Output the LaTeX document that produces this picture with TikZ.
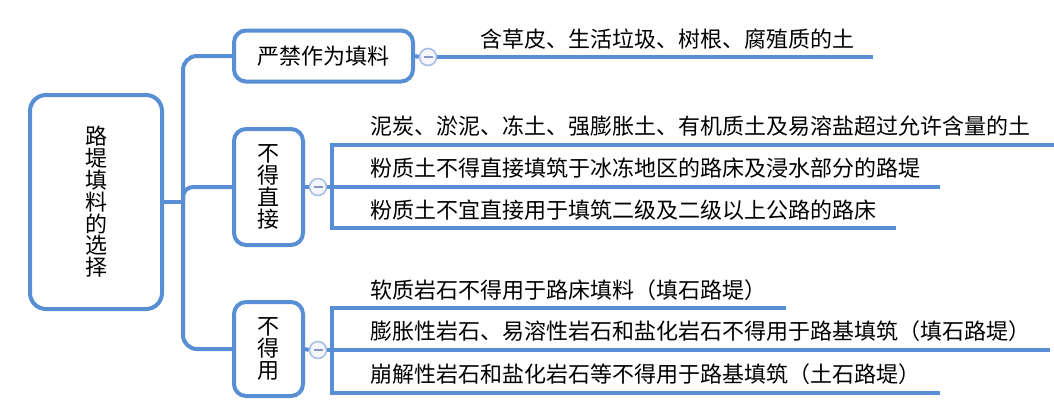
\documentclass[tikz,border=0pt]{standalone}
\usepackage{fontspec}
\setmainfont{Noto Sans CJK SC}
\usetikzlibrary{calc}
\definecolor{mblue}{RGB}{88,142,212}
\definecolor{cborder}{RGB}{168,192,232}
\definecolor{cfill}{RGB}{244,246,252}
\definecolor{cminus}{RGB}{136,150,196}
\begin{document}
\begin{tikzpicture}[x=1pt,y=-1pt,
  box/.style={draw=mblue,line width=4pt,rounded corners=12pt,inner sep=0pt,align=center,
    font=\fontsize{22}{21.8}\selectfont},
  conn/.style={draw=mblue,line width=4pt},
  fold/.style={circle,draw=cborder,fill=cfill,line width=1.6pt,minimum size=17pt,inner sep=0pt},
  leaf/.style={anchor=west,inner sep=0pt,font=\fontsize{22}{22}\selectfont},
  minus/.style={draw=cminus,line width=2pt}]
\useasboundingbox (0,0) rectangle (1054,415);
% root
\node[box,rounded corners=16pt,minimum width=132pt,minimum height=214pt] (root) at (96,202) {路\\堤\\填\\料\\的\\选\\择};
% first-level boxes
\node[box,minimum width=179pt,minimum height=51pt] (b1) at (323.5,56) {严禁作为填料};
\node[box,minimum width=69pt,minimum height=116pt] (b2) at (268.5,187) {不\\得\\直\\接};
\node[box,minimum width=69pt,minimum height=94pt] (b3) at (268.5,349) {不\\得\\用};
% trunk
\coordinate (trunk) at (183,202);
\draw[conn] (root.east|-trunk) -- (trunk);
\draw[conn,rounded corners=14pt] (trunk) |- (b1.west);
\draw[conn,rounded corners=10pt] (trunk) |- (b2.west);
\draw[conn,rounded corners=14pt] (trunk) |- (b3.west);
% fold circles
\node[fold] (c1) at (428,57) {};
\node[fold] (c2) at (318,187) {};
\node[fold] (c3) at (318,350) {};
% branch 1
\coordinate (e1) at (873,57);
\draw[conn] (b1.east) -- (c1.west);
\draw[conn] (c1.east) -- (e1);
\node[leaf] (t11) at (480,39) {含草皮、生活垃圾、树根、腐殖质的土};
% branch 2
\coordinate (k2) at (332,187);
\coordinate (k2a) at (332,145);
\coordinate (k2c) at (332,228);
\coordinate (e21) at (1054,145);
\coordinate (e22) at (940,187);
\coordinate (e23) at (896,228);
\draw[conn] (b2.east) -- (c2.west);
\draw[conn] (c2.east) -- (k2);
\draw[conn] (e21) -- (k2a) -- (k2c) -- (e23);
\draw[conn] (k2) -- (e22);
\node[leaf] (t21) at (370,126) {泥炭、淤泥、冻土、强膨胀土、有机质土及易溶盐超过允许含量的土};
\node[leaf] (t22) at (370,168) {粉质土不得直接填筑于冰冻地区的路床及浸水部分的路堤};
\node[leaf] (t23) at (370,210) {粉质土不宜直接用于填筑二级及二级以上公路的路床};
% branch 3
\coordinate (k3) at (332,350);
\coordinate (k3a) at (332,308);
\coordinate (k3c) at (332,393);
\coordinate (e31) at (786,308);
\coordinate (e32) at (1050,350);
\coordinate (e33) at (940,393);
\draw[conn] (b3.east) -- (c3.west);
\draw[conn] (c3.east) -- (k3);
\draw[conn] (e31) -- (k3a) -- (k3c) -- (e33);
\draw[conn] (k3) -- (e32);
\node[leaf] (t31) at (370,290) {软质岩石不得用于路床填料（填石路堤）};
\node[leaf] (t32) at (370,331) {膨胀性岩石、易溶性岩石和盐化岩石不得用于路基填筑（填石路堤）};
\node[leaf] (t33) at (370,374) {崩解性岩石和盐化岩石等不得用于路基填筑（土石路堤）};
% minus signs
\foreach \c in {c1,c2,c3} \draw[minus] ($(\c.center)+(-4.5,0)$) -- ($(\c.center)+(4.5,0)$);
\end{tikzpicture}
\end{document}
